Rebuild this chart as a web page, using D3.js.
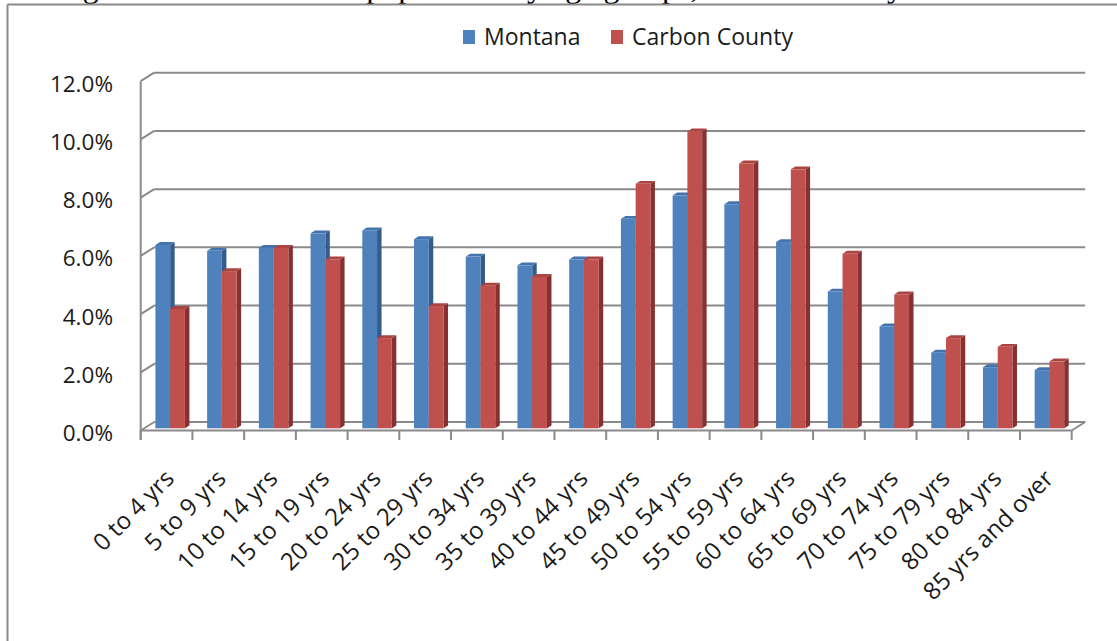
<!DOCTYPE html>
<html>
<head>
<meta charset="utf-8">
<script src="https://cdn.jsdelivr.net/npm/d3@7"></script>
<style>
  html, body { margin: 0; padding: 0; background: #fff; }
  svg { display: block; }
</style>
</head>
<body>
<svg id="chart" width="1117" height="641"></svg>
<script>
// ---------- data ----------
const categories = ["0 to 4 yrs", "5 to 9 yrs", "10 to 14 yrs", "15 to 19 yrs", "20 to 24 yrs",
  "25 to 29 yrs", "30 to 34 yrs", "35 to 39 yrs", "40 to 44 yrs", "45 to 49 yrs", "50 to 54 yrs",
  "55 to 59 yrs", "60 to 64 yrs", "65 to 69 yrs", "70 to 74 yrs", "75 to 79 yrs", "80 to 84 yrs",
  "85 yrs and over"];
const seriesNames = ["Montana", "Carbon County"];
const montana = [6.3, 6.1, 6.2, 6.7, 6.8, 6.5, 5.9, 5.6, 5.8, 7.2, 8.0, 7.7, 6.4, 4.7, 3.5, 2.6, 2.1, 2.0];
const carbon  = [4.1, 5.4, 6.2, 5.8, 3.1, 4.2, 4.9, 5.2, 5.8, 8.4, 10.2, 9.1, 8.9, 6.0, 4.6, 3.1, 2.8, 2.3];
const yTicks = [0, 2, 4, 6, 8, 10, 12];
const yTickLabels = ["0.0%", "2.0%", "4.0%", "6.0%", "8.0%", "10.0%", "12.0%"];
const caption = "Figure 5: Percent of the population by age groups, Carbon County";

// ---------- styles ----------
const colors = {
  Montana:        { front: "#4F81BD", top: "#4474ae", side: "#355d8c" },
  "Carbon County": { front: "#C0504D", top: "#ab4542", side: "#86312f" }
};
const gridColor = "#8a8a8a";
const labelFont = "'Open Sans', 'Noto Sans', sans-serif";

const svg = d3.select("#chart");

// caption (clipped at the top edge of the page, as in the source)
svg.append("text")
  .attr("x", 56).attr("y", -3)
  .attr("font-family", "'Liberation Serif', 'Times New Roman', serif")
  .attr("font-size", 32).attr("fill", "#000")
  .text(caption);

// outer frame
svg.append("line").attr("x1", 7.5).attr("x2", 1117).attr("y1", 4.5).attr("y2", 4.5)
  .attr("stroke", "#8a8a8a").attr("stroke-width", 2);
svg.append("line").attr("x1", 7.5).attr("x2", 7.5).attr("y1", 4.5).attr("y2", 641)
  .attr("stroke", "#8a8a8a").attr("stroke-width", 2);

// ---------- geometry ----------
const frontLeft = 140.7, frontRight = 1071.7;
const wallDx = 13.5, wallDy = -8.5;           // depth offset of the back wall
const floorFront = 430.5;
const yFront = d3.scaleLinear().domain([0, 12]).range([floorFront, 81.2]);
const yBack  = d3.scaleLinear().domain([0, 12]).range([floorFront + wallDy, 72.7]);

const x = d3.scaleBand().domain(categories).range([frontLeft, frontRight]).padding(0);
const xs = d3.scaleBand().domain(seriesNames).range([0, x.step()]).paddingInner(0).paddingOuter(0.753);

// bar plane (slightly behind the front edge of the floor)
const barShiftX = 3.6, barBase = 428.3;
const yBar = d3.scaleLinear().domain([0, 12]).range([barBase, barBase - 12 * 29.1]);
const bdx = 4.5, bdy = -2.9;                   // bar depth

// ---------- walls & grid ----------
const grid = svg.append("g").attr("stroke", gridColor).attr("stroke-width", 2).attr("fill", "none");
grid.selectAll("line.h").data(yTicks).join("line")
  .attr("x1", frontLeft + wallDx).attr("x2", frontRight + wallDx)
  .attr("y1", d => yBack(d)).attr("y2", d => yBack(d));
grid.selectAll("line.d").data(yTicks).join("line")
  .attr("x1", frontLeft).attr("y1", d => yFront(d))
  .attr("x2", frontLeft + wallDx).attr("y2", d => yBack(d));
grid.append("line").attr("x1", frontLeft).attr("x2", frontLeft)
  .attr("y1", yFront(12)).attr("y2", floorFront + 9.5);
grid.append("line").attr("x1", frontLeft).attr("x2", frontRight)
  .attr("y1", floorFront).attr("y2", floorFront);
grid.append("line").attr("x1", frontRight).attr("y1", floorFront)
  .attr("x2", frontRight + wallDx).attr("y2", floorFront + wallDy);
const tickPos = categories.map(c => x(c)).concat([frontRight]);
grid.selectAll("line.t").data(tickPos).join("line")
  .attr("x1", d => d).attr("x2", d => d)
  .attr("y1", floorFront).attr("y2", floorFront + 9.5);

// y labels
svg.append("g").selectAll("text").data(yTicks).join("text")
  .attr("x", 113).attr("y", d => yFront(d) + 10.5)
  .attr("text-anchor", "end")
  .attr("font-family", labelFont).attr("font-size", 22.5).attr("fill", "#1a1a1a")
  .text((d, i) => yTickLabels[i]);

// ---------- bars ----------
const rows = categories.map((c, i) => ({ cat: c, values: [
  { s: "Montana", v: montana[i] }, { s: "Carbon County", v: carbon[i] } ] }));

const bars = svg.append("g");
rows.forEach(r => {
  r.values.forEach(d => {
    const x0 = x(r.cat) + xs(d.s) + barShiftX;
    const w = xs.bandwidth();
    const yt = yBar(d.v), yb = yBar(0);
    const c = colors[d.s];
    const g = bars.append("g");
    g.append("path").attr("fill", c.side)
      .attr("d", `M${x0 + w},${yt}L${x0 + w + bdx},${yt + bdy}L${x0 + w + bdx},${yb + bdy}L${x0 + w},${yb}Z`);
    g.append("path").attr("fill", c.top)
      .attr("d", `M${x0},${yt}L${x0 + bdx},${yt + bdy}L${x0 + w + bdx},${yt + bdy}L${x0 + w},${yt}Z`);
    g.append("rect").attr("fill", c.front)
      .attr("x", x0).attr("y", yt).attr("width", w).attr("height", yb - yt);
  });
});

// x labels
svg.append("g").selectAll("text").data(categories).join("text")
  .attr("transform", d => `translate(${x(d) + x.bandwidth() / 2 + 9},480) rotate(-45)`)
  .attr("text-anchor", "end")
  .attr("font-family", labelFont).attr("font-size", 24).attr("fill", "#1a1a1a")
  .text(d => d);

// ---------- legend ----------
const legendX = [463, 611];
const legend = svg.append("g");
seriesNames.forEach((s, i) => {
  legend.append("rect").attr("x", legendX[i]).attr("y", 30).attr("width", 12).attr("height", 14)
    .attr("fill", colors[s].front);
  legend.append("text").attr("x", legendX[i] + 21).attr("y", 45)
    .attr("font-family", labelFont).attr("font-size", 23).attr("fill", "#1a1a1a")
    .text(s);
});
</script>
</body>
</html>
